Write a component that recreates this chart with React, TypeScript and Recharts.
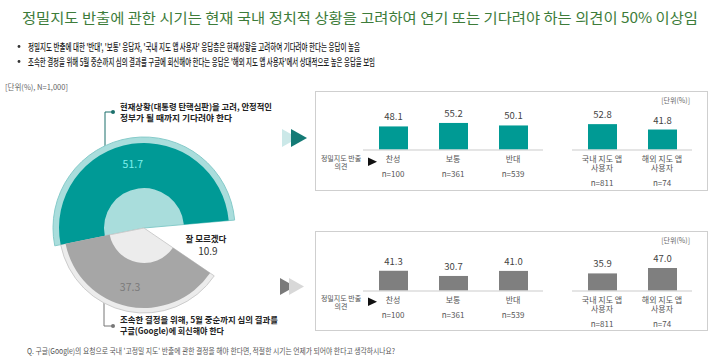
import { PieChart, Pie, Cell, BarChart, Bar, XAxis, YAxis, LabelList } from 'recharts';

const FONT = "'Noto Sans CJK KR', 'Noto Sans', sans-serif";

// pie: 적절한 반출 결정 시기
const pieNames = [
  '현재상황(대통령 탄핵심판)을 고려, 안정적인 정부가 될 때까지 기다려야 한다',
  '조속한 결정을 위해, 5월 중순까지 심의 결과를 구글(Google)에 회신해야 한다',
  '잘 모르겠다',
];
const pieValues = [51.7, 37.3, 10.9];

// bars
const opinionCats = ['찬성', '보통', '반대'];
const opinionN = [100, 361, 539];
const userCats = ['국내 지도 앱 사용자', '해외 지도 앱 사용자'];
const userN = [811, 74];

const waitByOpinion = [48.1, 55.2, 50.1];
const waitByUser = [52.8, 41.8];
const replyByOpinion = [41.3, 30.7, 41.0];
const replyByUser = [35.9, 47.0];

const pieData = pieNames.map((name, i) => ({ name, value: pieValues[i] }));

const RAD = Math.PI / 180;
const labelR = [65, 60, 64];

const renderPieLabel = (p: any) => {
  const r = labelR[p.index];
  const x = p.cx + r * Math.cos(-p.midAngle * RAD);
  const y = p.cy + r * Math.sin(-p.midAngle * RAD);
  if (p.index === 2) {
    return (
      <g>
        <text x={x} y={y - 6} textAnchor="middle" dominantBaseline="central" fontSize={8.5} fontWeight="bold" fill="#222" fontFamily={FONT}>
          {pieNames[2]}
        </text>
        <text x={x + 2} y={y + 6} textAnchor="middle" dominantBaseline="central" fontSize={10} fill="#333" fontFamily={FONT}>
          {pieValues[2].toFixed(1)}
        </text>
      </g>
    );
  }
  return (
    <text x={x - 2} y={y} textAnchor="middle" dominantBaseline="central" fontSize={10.5}
      fill={p.index === 0 ? '#7ef0ec' : '#7a7a7a'} fontFamily={FONT}>
      {pieValues[p.index].toFixed(1)}
    </text>
  );
};

const splitLabel = (s: string) => {
  const k = s.lastIndexOf(' ');
  return s.length > 4 ? [s.slice(0, k), s.slice(k + 1)] : [s];
};

const makeTick = (cats: string[], ns: number[]) => (props: any) => {
  const { x, y, index } = props;
  const lines = splitLabel(cats[index]);
  return (
    <g>
      {lines.map((l, k) => (
        <text key={k} x={x} y={y + 8 + k * 9.5} textAnchor="middle" dominantBaseline="central" fontSize={8} fill="#555" fontFamily={FONT}>
          {l}
        </text>
      ))}
      <text x={x} y={y + 8 + (lines.length - 1) * 9.5 + 15} textAnchor="middle" dominantBaseline="central" fontSize={8} fill="#555" fontFamily={FONT}>
        n={ns[index]}
      </text>
    </g>
  );
};

function BarGroup({ left, base, width, cats, ns, values, color }: any) {
  const data = cats.map((c: string, i: number) => ({ name: c, value: values[i] }));
  const T = 24;
  const H = 49;
  const B = 40;
  return (
    <div style={{ position: 'absolute', left, top: base - H - T }}>
      <BarChart width={width} height={T + H + B} data={data} margin={{ top: T, right: 0, bottom: 0, left: 0 }}>
        <XAxis dataKey="name" interval={0} height={B} tickLine={false} tickSize={0} tickMargin={0}
          axisLine={{ stroke: '#dcdcdc', strokeWidth: 1.5 }} tick={makeTick(cats, ns)} />
        <YAxis hide domain={[0, 100]} />
        <Bar dataKey="value" fill={color} barSize={29} isAnimationActive={false}>
          <LabelList dataKey="value" position="top" offset={6} formatter={(v: any) => Number(v).toFixed(1)}
            style={{ fontSize: 9.5, fill: '#444', fontFamily: FONT }} />
        </Bar>
      </BarChart>
    </div>
  );
}

function PanelDeco({ dy }: { dy: number }) {
  return (
    <g>
      <rect x={315.5} y={91.5 + dy} width={392} height={99} fill="none" stroke="#cfcfcf" />
      <text x={690} y={100 + dy} textAnchor="end" dominantBaseline="central" fontSize={7} fill="#666" fontFamily={FONT}>[단위(%)]</text>
      <text x={341} y={157.5 + dy} textAnchor="middle" dominantBaseline="central" fontSize={7} fill="#555" fontFamily={FONT}>정밀지도 반출</text>
      <text x={341} y={166 + dy} textAnchor="middle" dominantBaseline="central" fontSize={7} fill="#555" fontFamily={FONT}>의견</text>
      <polygon points={`368,${157.5 + dy} 368,${166 + dy} 377,${161.8 + dy}`} fill="#111" />
    </g>
  );
}

export default function App() {
  return (
    <div style={{ position: 'absolute', left: 0, top: 0, width: 720, height: 364, background: '#fff', fontFamily: FONT }}>
      <svg width={720} height={364} style={{ position: 'absolute', left: 0, top: 0 }}>
        <text x={22} y={17} dominantBaseline="central" fontSize={14} fill="#3d7c3a" textLength={676} lengthAdjust="spacingAndGlyphs" fontFamily={FONT}>
          정밀지도 반출에 관한 시기는 현재 국내 정치적 상황을 고려하여 연기 또는 기다려야 하는 의견이 50% 이상임
        </text>
        <circle cx={19} cy={46.5} r={1.4} fill="#333" />
        <circle cx={19} cy={61.5} r={1.4} fill="#333" />
        <text x={28} y={46.5} dominantBaseline="central" fontSize={10} fontWeight={500} fill="#1a1a1a" textLength={332} lengthAdjust="spacingAndGlyphs" fontFamily={FONT}>
          정밀지도 반출에 대한 '반대', '보통' 응답자, '국내 지도 앱 사용자' 응답층은 현재상황을 고려하여 기다려야 한다는 응답이 높음
        </text>
        <text x={28} y={61.5} dominantBaseline="central" fontSize={10} fontWeight={500} fill="#1a1a1a" textLength={347} lengthAdjust="spacingAndGlyphs" fontFamily={FONT}>
          조속한 결정을 위해 5월 중순까지 심의 결과를 구글에 회신해야 한다는 응답은 '해외 지도 앱 사용자'에서 상대적으로 높은 응답을 보임
        </text>

        <text x={5} y={86} dominantBaseline="central" fontSize={7.5} fill="#666" textLength={63} lengthAdjust="spacingAndGlyphs" fontFamily={FONT}>
          [단위(%), N=1,000]
        </text>

        {/* callouts */}
        <path d="M105,156 V112 H112" fill="none" stroke="#1b6f6b" strokeWidth={1} />
        <circle cx={113} cy={112} r={2} fill="#1b6f6b" />
        <text x={120} y={106} dominantBaseline="central" fontSize={8.5} fontWeight="bold" fill="#222" textLength={152} lengthAdjust="spacingAndGlyphs" fontFamily={FONT}>
          현재상황(대통령 탄핵심판)을 고려, 안정적인
        </text>
        <text x={120} y={117} dominantBaseline="central" fontSize={8.5} fontWeight="bold" fill="#222" textLength={112} lengthAdjust="spacingAndGlyphs" fontFamily={FONT}>
          정부가 될 때까지 기다려야 한다
        </text>
        <path d="M104,300 V326 H112" fill="none" stroke="#777" strokeWidth={1} />
        <circle cx={113} cy={326} r={2} fill="#777" />
        <text x={120} y={319} dominantBaseline="central" fontSize={8.5} fontWeight="bold" fill="#222" textLength={158} lengthAdjust="spacingAndGlyphs" fontFamily={FONT}>
          조속한 결정을 위해, 5월 중순까지 심의 결과를
        </text>
        <text x={120} y={330} dominantBaseline="central" fontSize={8.5} fontWeight="bold" fill="#222" textLength={104} lengthAdjust="spacingAndGlyphs" fontFamily={FONT}>
          구글(Google)에 회신해야 한다
        </text>

        {/* arrows */}
        <polygon points="282,129 282,147 298,138" fill="#cbe8e8" />
        <polygon points="291,129 291,147 307,138" fill="#137a75" />
        <polygon points="280,278 280,295 295,286.5" fill="#7a7a7a" />
        <polygon points="289,278 289,295 304,286.5" fill="#d8d8d8" />

        <PanelDeco dy={0} />
        <PanelDeco dy={140} />

        <text x={27} y={350} dominantBaseline="central" fontSize={8} fill="#555" textLength={368} lengthAdjust="spacingAndGlyphs" fontFamily={FONT}>
          Q. 구글(Google)의 요청으로 국내 '고정밀 지도' 반출에 관한 결정을 해야 한다면, 적절한 시기는 언제가 되어야  한다고 생각하시나요?
        </text>
      </svg>

      <div style={{ position: 'absolute', left: 39, top: 123 }}>
        <PieChart width={200} height={200}>
          <Pie data={pieData} dataKey="value" cx={100} cy={100} innerRadius={0} outerRadius={91} startAngle={5} endAngle={365} isAnimationActive={false}>
            <Cell fill="#a9dddc" stroke="#86cbca" strokeWidth={1} />
            <Cell fill="none" stroke="none" />
            <Cell fill="none" stroke="none" />
          </Pie>
          <Pie data={pieData} dataKey="value" cx={100} cy={100} innerRadius={0} outerRadius={85} startAngle={5} endAngle={365} isAnimationActive={false}>
            <Cell fill="none" stroke="none" />
            <Cell fill="#ececec" stroke="#cdcdcd" strokeWidth={1} />
            <Cell fill="none" stroke="none" />
          </Pie>
          <Pie data={pieData} dataKey="value" cx={100} cy={100} innerRadius={40} outerRadius={85} startAngle={5} endAngle={365} isAnimationActive={false}>
            <Cell fill="#009a96" stroke="none" />
            <Cell fill="none" stroke="none" />
            <Cell fill="none" stroke="none" />
          </Pie>
          <Pie data={pieData} dataKey="value" cx={100} cy={100} innerRadius={35} outerRadius={80} startAngle={5} endAngle={365}
            isAnimationActive={false} label={renderPieLabel} labelLine={false}>
            <Cell fill="none" stroke="none" />
            <Cell fill="#a6a6a6" stroke="none" />
            <Cell fill="none" stroke="none" />
          </Pie>
        </PieChart>
      </div>

      <BarGroup left={363} base={150} width={180} cats={opinionCats} ns={opinionN} values={waitByOpinion} color="#009a94" />
      <BarGroup left={572} base={150} width={120} cats={userCats} ns={userN} values={waitByUser} color="#009a94" />
      <BarGroup left={363} base={291} width={180} cats={opinionCats} ns={opinionN} values={replyByOpinion} color="#7f7f7f" />
      <BarGroup left={572} base={291} width={120} cats={userCats} ns={userN} values={replyByUser} color="#7f7f7f" />
    </div>
  );
}
